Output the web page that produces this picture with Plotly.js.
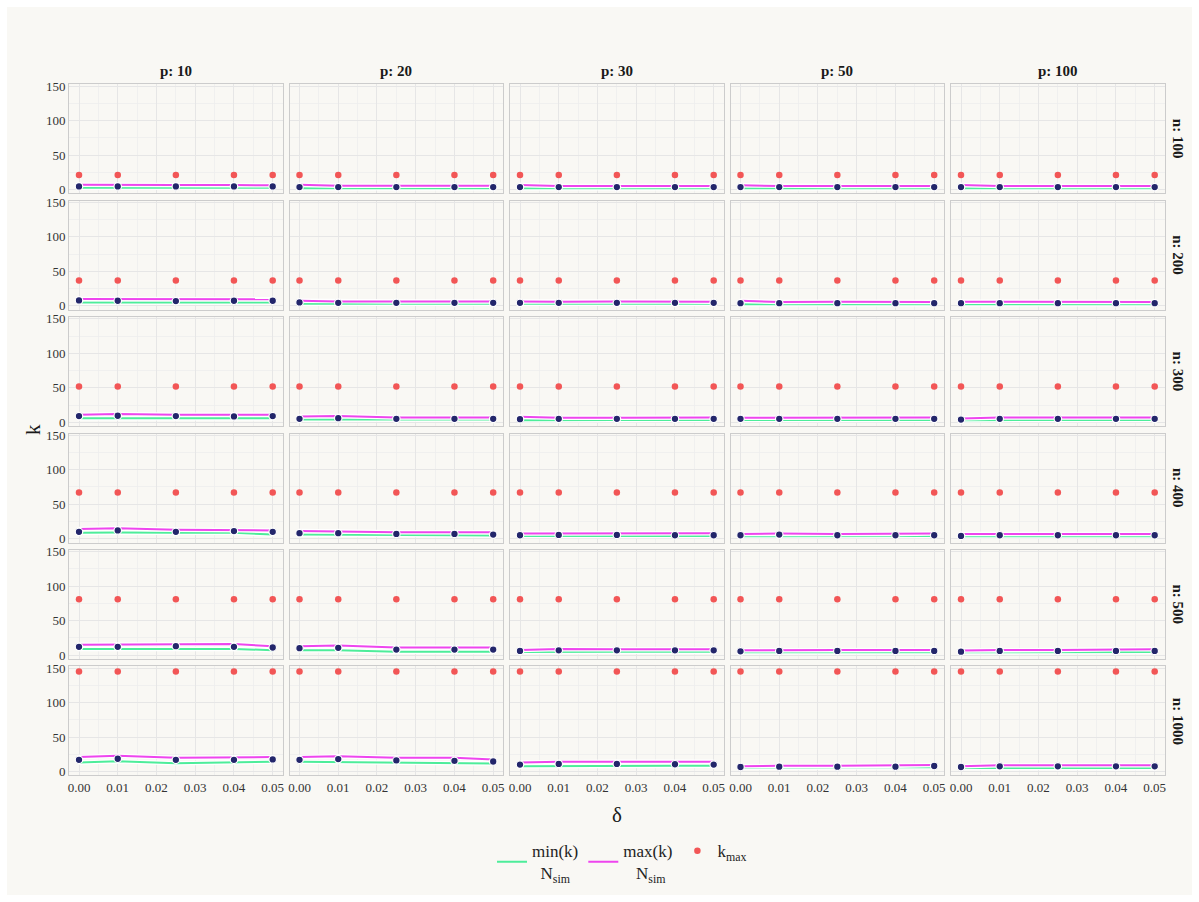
<!DOCTYPE html>
<html>
<head>
<meta charset="utf-8">
<script src="https://cdn.plot.ly/plotly-3.0.1.min.js"></script>
<style>
  html, body { margin: 0; padding: 0; background: #ffffff; }
  #plot { position: absolute; left: 7px; top: 7px; width: 1185px; height: 888px; }
</style>
</head>
<body>
<div id="plot"></div>
<script>
// ---------------- data ----------------
const pValues = [10, 20, 30, 50, 100];
const nValues = [100, 200, 300, 400, 500, 1000];
const delta = [0, 0.01, 0.025, 0.04, 0.05];
const xTicks = [0, 0.01, 0.02, 0.03, 0.04, 0.05];
const xTickLabels = ['0.00', '0.01', '0.02', '0.03', '0.04', '0.05'];
const yTicks = [0, 50, 100, 150];
const kmax = [21, 37, 52, 67, 81, 145];

// each row: one list per p (10, 20, 30, 50, 100), values over delta
const minK_n100  = [[2.5,2.5,2.5,2.5,2.5],[2,2,2,2,2],[2,2,2,2,2],[2,2,2,2,2],[2,2,2,2,2]];
const midK_n100  = [[4.5,4.5,4.5,4.5,4.5],[3.5,3.5,3.5,3.5,3.5],[3.5,3.5,3.5,3.5,3.5],[3.5,3.5,3.5,3.5,3.5],[3.5,3.5,3.5,3.5,3.5]];
const maxK_n100  = [[7,6.5,6.5,6.5,6],[7,5.5,5.5,5,5.5],[6.5,5,5,5,5],[6,5,5,5,5],[6.5,5,5,5,5]];

const minK_n200  = [[5,5,5,5,5],[3,3,3,3,3],[3,3,3,3,3],[2.5,2.5,2.5,2.5,2.5],[2.5,2.5,2.5,2.5,2.5]];
const midK_n200  = [[8,7.5,7,7.5,7.5],[5,4.5,4.5,4.5,4.5],[4.5,4.5,4.5,4.5,4.5],[4,4,4,4,4],[4,4,4,4,4]];
const maxK_n200  = [[10,10,9.5,9.5,9.5],[7.5,6.5,6.5,6.5,6.5],[6.5,6,6.5,6.5,6],[7.5,5.5,6,5.5,5.5],[6,6,6,5.5,5.5]];

const minK_n300  = [[6,6,6,5.5,6],[4,4,4,4,4],[3,3.5,3.5,3.5,3.5],[3.5,3.5,3.5,3.5,3.5],[3,3.5,3.5,3.5,3.5]];
const midK_n300  = [[9,9.5,9,8.5,9],[5,6,5,5,5],[4.5,5,5,5,5],[5,5,5,5,5],[4,5,5,5,5]];
const maxK_n300  = [[11,12,11,10.5,11],[8.5,9,7,7,7],[8,6.5,6.5,7,7],[6.5,6.5,7.5,7,7],[5.5,7,7,7,7]];

const minK_n400  = [[8.5,9,8.5,8.5,6],[6,6,5,5,4.5],[4,4,4,4,4],[3.5,3.5,3.5,3.5,4],[3.5,3.5,3.5,3.5,3.5]];
const midK_n400  = [[10,12,10,11,10],[8,8,7,7,6],[5,5.5,5.5,5,5],[5,6,5,5,5],[4,5,5,5,5]];
const maxK_n400  = [[14,15,13,13,12],[11,10,9.5,9.5,9.5],[7.5,7.5,8.5,8,8],[7,7.5,7,7,7.5],[7,7,6.5,6.5,7]];

const minK_n500  = [[9,9,9,9,7],[7,7,5,5,5],[4.5,5,5,5,5],[4,4,4,4,4],[4,4,4,4.5,4.5]];
const midK_n500  = [[12,12,13,12,11],[10,10.5,8,8,8],[6,7,7,7,7],[5.5,6,6,6,6],[5,6,6,6,6]];
const maxK_n500  = [[15,15,16,16,13],[13,14,11,11,11],[7.5,9,8.5,8.5,8.5],[7,7.5,7.5,7.5,7.5],[6.5,7.5,7.5,8.5,8.5]];

const minK_n1000 = [[13,15,12,13,14],[14,13.5,12,12,11.5],[7.5,8,8,8.5,8.5],[5.5,6,6,6,6],[5,5,5,5,5]];
const midK_n1000 = [[17,18.5,17,17,17.5],[17,18,16,15.5,14.5],[10,11,11,10.5,10],[6.5,7,7,7,8],[6.5,7.5,7.5,7.5,7.5]];
const maxK_n1000 = [[21,23,20,20,21],[21,22,20,20,17.5],[13,14,14,14,14],[7.5,8.5,8.5,8.5,9.5],[7.5,9,9,9,9]];

const minRows = [minK_n100, minK_n200, minK_n300, minK_n400, minK_n500, minK_n1000];
const midRows = [midK_n100, midK_n200, midK_n300, midK_n400, midK_n500, midK_n1000];
const maxRows = [maxK_n100, maxK_n200, maxK_n300, maxK_n400, maxK_n500, maxK_n1000];

// ---------------- styling / layout ----------------
const W = 1185, H = 888;
const colLeft0 = 62, colPitch = 220.5, panelW = 213.7;
const rowTop0 = 77.3, rowPitch = 116.4, panelH = 109;
const FONT = 'Liberation Serif, Times New Roman, serif';
const cGreen = '#4ded9a', cMag = '#ee45ee', cRed = '#f25656', cNavy = '#23266b';

const traces = [];
const layout = {
  width: W, height: H,
  margin: {l: 0, r: 0, t: 0, b: 0},
  paper_bgcolor: '#f9f8f4',
  plot_bgcolor: '#f9f8f4',
  font: {family: FONT, color: '#222'},
  showlegend: true,
  legend: {
    orientation: 'h', x: 0.519, xanchor: 'center', y: 0.037, yanchor: 'middle',
    bgcolor: 'rgba(0,0,0,0)', font: {family: FONT, size: 17, color: '#222'},
    itemwidth: 30
  },
  annotations: []
};

for (let r = 0; r < nValues.length; r++) {
  for (let c = 0; c < pValues.length; c++) {
    const i = r * pValues.length + c + 1;
    const xa = 'x' + i, ya = 'y' + i;
    const x0 = (colLeft0 + colPitch * c) / W, x1 = (colLeft0 + colPitch * c + panelW) / W;
    const top = rowTop0 + rowPitch * r, bot = top + panelH;
    layout['xaxis' + i] = {
      domain: [x0, x1], anchor: ya, range: [-0.00258, 0.05258],
      tickvals: xTicks, ticktext: xTickLabels, showticklabels: r === nValues.length - 1,
      ticks: '', tickfont: {family: FONT, size: 13, color: '#333'},
      showgrid: true, gridcolor: '#e6e6e6', gridwidth: 1,
      minor: {dtick: 0.005, tick0: 0.005, showgrid: true, gridcolor: '#eeeeee', gridwidth: 0.8},
      zeroline: false, showline: true, mirror: true, linecolor: '#cccccc', linewidth: 1,
      fixedrange: true
    };
    layout['yaxis' + i] = {
      domain: [1 - bot / H, 1 - top / H], anchor: xa, range: [-5.5, 152.5],
      tickvals: yTicks, showticklabels: c === 0,
      ticks: '', tickfont: {family: FONT, size: 13, color: '#333'},
      showgrid: true, gridcolor: '#e6e6e6', gridwidth: 1,
      minor: {dtick: 25, tick0: 25, showgrid: true, gridcolor: '#eeeeee', gridwidth: 0.8},
      zeroline: false, showline: true, mirror: true, linecolor: '#cccccc', linewidth: 1,
      fixedrange: true
    };
    const first = (i === 1);
    const mn = minRows[r][c], mx = maxRows[r][c], md = midRows[r][c];
    // min line with halo
    traces.push({x: delta, y: mn, xaxis: xa, yaxis: ya, mode: 'lines', showlegend: false, hoverinfo: 'skip',
      line: {color: '#ffffff', width: 4.5}});
    traces.push({x: delta, y: mn, xaxis: xa, yaxis: ya, mode: 'lines', showlegend: first, legendgroup: 'min',
      name: 'min(k)<br>\u00a0\u00a0N<sub>sim</sub>', line: {color: cGreen, width: 2}});
    // max line with halo
    traces.push({x: delta, y: mx, xaxis: xa, yaxis: ya, mode: 'lines', showlegend: false, hoverinfo: 'skip',
      line: {color: '#ffffff', width: 4.5}});
    traces.push({x: delta, y: mx, xaxis: xa, yaxis: ya, mode: 'lines', showlegend: first, legendgroup: 'max',
      name: 'max(k)<br>\u00a0\u00a0\u00a0N<sub>sim</sub>', line: {color: cMag, width: 2}});
    // k_max points
    traces.push({x: delta, y: delta.map(() => kmax[r]), xaxis: xa, yaxis: ya, mode: 'markers',
      showlegend: first, legendgroup: 'kmax', name: 'k<sub>max</sub>',
      marker: {color: cRed, size: 6.5}});
    // simulated k points
    traces.push({x: delta, y: md, xaxis: xa, yaxis: ya, mode: 'markers', showlegend: false,
      marker: {color: cNavy, size: 7.5, line: {color: '#ffffff', width: 1.2}}});
  }
}

// strip labels (top)
for (let c = 0; c < pValues.length; c++) {
  layout.annotations.push({
    text: '<b>p: ' + pValues[c] + '</b>', xref: 'paper', yref: 'paper',
    x: (colLeft0 + colPitch * c + panelW / 2) / W, y: 1 - 64 / H,
    xanchor: 'center', yanchor: 'middle', showarrow: false,
    font: {family: FONT, size: 15, color: '#1a1a1a'}
  });
}
// strip labels (right)
for (let r = 0; r < nValues.length; r++) {
  layout.annotations.push({
    text: '<b>n: ' + nValues[r] + '</b>', xref: 'paper', yref: 'paper',
    x: 1171 / W, y: 1 - (rowTop0 + rowPitch * r + panelH / 2) / H,
    xanchor: 'center', yanchor: 'middle', showarrow: false, textangle: 90,
    font: {family: FONT, size: 15, color: '#1a1a1a'}
  });
}
// axis titles
layout.annotations.push({text: 'k', xref: 'paper', yref: 'paper', x: 26 / W, y: 1 - 423 / H,
  xanchor: 'center', yanchor: 'middle', showarrow: false, textangle: -90,
  font: {family: FONT, size: 21, color: '#1a1a1a'}});
layout.annotations.push({text: 'δ', xref: 'paper', yref: 'paper', x: 610 / W, y: 1 - 808 / H,
  xanchor: 'center', yanchor: 'middle', showarrow: false,
  font: {family: FONT, size: 21, color: '#1a1a1a'}});

Plotly.newPlot('plot', traces, layout, {displayModeBar: false, staticPlot: true});
</script>
</body>
</html>
